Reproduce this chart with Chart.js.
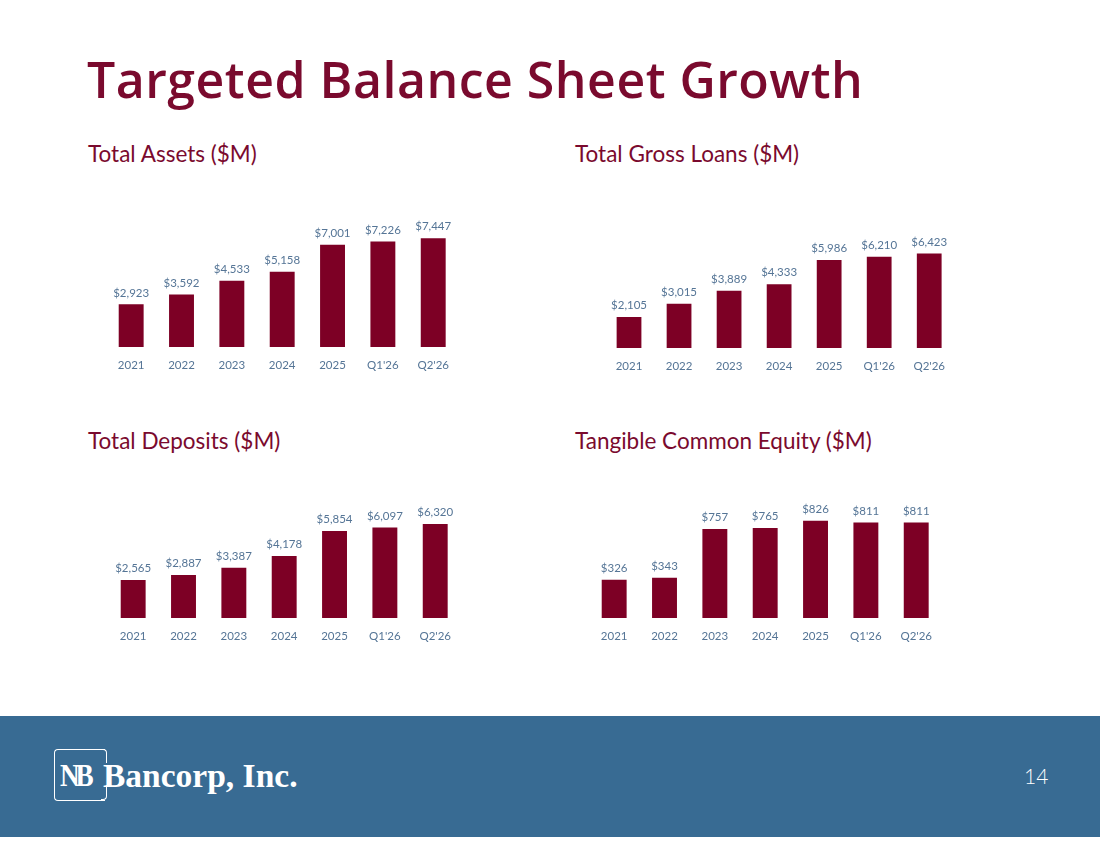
<!DOCTYPE html>
<html>
<head>
<meta charset="utf-8">
<script src="https://cdn.jsdelivr.net/npm/chart.js@4.4.1/dist/chart.umd.min.js"></script>
<style>
  html, body { margin:0; padding:0; background:#ffffff; }
  body { width:1100px; height:849px; position:relative; overflow:hidden; font-family: Lato, "Open Sans", sans-serif; }
  .title { position:absolute; left:87px; top:45px; font-family:"Open Sans", sans-serif; font-weight:600; font-size:50px; color:#7a0a2e; letter-spacing:0.5px; white-space:nowrap; }
  .sub { position:absolute; font-family:Lato, sans-serif; font-size:22.5px; color:#7a0a2e; white-space:nowrap; }
  canvas { position:absolute; }
  .footer { position:absolute; left:0; top:716px; width:1100px; height:121px; background:#386b93; }
  .logo-box { position:absolute; left:54px; top:749px; width:50px; height:50px; border:1.6px solid #fff; border-right:none; border-radius:4px 0 0 4px; }
  .logo-r1 { position:absolute; left:101px; top:749px; width:5px; height:13px; border-top:1.6px solid #fff; border-right:1.6px solid #fff; border-radius:0 4px 0 0; }
  .logo-r2 { position:absolute; left:101px; top:785px; width:5px; height:13.6px; border-bottom:1.6px solid #fff; border-right:1.6px solid #fff; border-radius:0 0 4px 0; }
  .logo-nb { position:absolute; left:60px; top:757px; font-family:"Liberation Serif", serif; font-weight:bold; font-size:32px; color:#fff; letter-spacing:-5px; white-space:nowrap; transform:scaleX(0.85); transform-origin:left center; }
  .logo-text { position:absolute; left:103px; top:757px; font-family:"Liberation Serif", "DejaVu Serif", serif; font-weight:bold; font-size:33.5px; color:#fff; white-space:nowrap; letter-spacing:0px; }
  .page { position:absolute; left:1024px; top:763px; font-family:Lato, sans-serif; font-weight:300; font-size:21px; color:#fff; }
</style>
</head>
<body>
<div class="title">Targeted Balance Sheet Growth</div>
<div class="sub" style="left:88px; top:140px;">Total Assets ($M)</div>
<div class="sub" style="left:575px; top:140px;">Total Gross Loans ($M)</div>
<div class="sub" style="left:88px; top:427px;">Total Deposits ($M)</div>
<div class="sub" style="left:575px; top:427px;">Tangible Common Equity ($M)</div>

<canvas id="c1"></canvas>
<canvas id="c2"></canvas>
<canvas id="c3"></canvas>
<canvas id="c4"></canvas>

<div class="footer"></div>
<div class="logo-box"></div>
<div class="logo-r1"></div>
<div class="logo-r2"></div>
<div class="logo-nb">NB</div>
<div class="logo-text">Bancorp, Inc.</div>
<div class="page">14</div>

<script>
// ---- Data ----
const categories = ["2021", "2022", "2023", "2024", "2025", "Q1'26", "Q2'26"];
const totalAssets = [2923, 3592, 4533, 5158, 7001, 7226, 7447];
const totalGrossLoans = [2105, 3015, 3889, 4333, 5986, 6210, 6423];
const totalDeposits = [2565, 2887, 3387, 4178, 5854, 6097, 6320];
const tangibleCommonEquity = [326, 343, 757, 765, 826, 811, 811];

const BAR_COLOR = '#7d0025';
const LABEL_COLOR = '#557596';

const valueLabels = {
  id: 'valueLabels',
  afterDatasetsDraw(chart) {
    const ctx = chart.ctx;
    ctx.save();
    ctx.font = '11.5px Lato, sans-serif';
    ctx.fillStyle = LABEL_COLOR;
    ctx.textAlign = 'center';
    ctx.textBaseline = 'middle';
    const meta = chart.getDatasetMeta(0);
    const data = chart.data.datasets[0].data;
    meta.data.forEach((bar, i) => {
      ctx.fillText('$' + data[i].toLocaleString('en-US'), bar.x, bar.y - 11.5);
    });
    ctx.restore();
  }
};

function makeChart(id, values, g) {
  const canvas = document.getElementById(id);
  const padTop = 20, axisH = 36;
  const areaH = 150;
  const canvasTop = g.baseline - areaH - padTop;
  const h = padTop + areaH + axisH;
  canvas.width = Math.round(g.width);
  canvas.height = h;
  canvas.style.left = g.left + 'px';
  canvas.style.top = canvasTop + 'px';
  canvas.style.width = Math.round(g.width) + 'px';
  canvas.style.height = h + 'px';
  new Chart(canvas, {
    type: 'bar',
    data: {
      labels: categories,
      datasets: [{ data: values, backgroundColor: BAR_COLOR, borderWidth: 0,
                   barPercentage: 0.495, categoryPercentage: 1 }]
    },
    options: {
      responsive: false,
      animation: false,
      layout: { padding: { top: padTop, bottom: 0, left: 0, right: 0 } },
      plugins: { legend: { display: false }, tooltip: { enabled: false } },
      scales: {
        x: {
          grid: { display: false, drawTicks: false },
          border: { display: false },
          ticks: { color: LABEL_COLOR, font: { family: 'Lato', size: 11.5 }, padding: 11, maxRotation: 0 },
          afterFit(scale) { scale.height = axisH; }
        },
        y: { display: false, min: 0, max: g.perPx * areaH }
      }
    },
    plugins: [valueLabels]
  });
}

makeChart('c1', totalAssets,          { left: 106,   width: 354, baseline: 347, perPx: 68.5 });
makeChart('c2', totalGrossLoans,      { left: 604,   width: 352, baseline: 348, perPx: 68.0 });
makeChart('c3', totalDeposits,        { left: 108,   width: 354, baseline: 618, perPx: 67.3 });
makeChart('c4', tangibleCommonEquity, { left: 589,   width: 354, baseline: 618, perPx: 8.5 });
</script>
</body>
</html>
